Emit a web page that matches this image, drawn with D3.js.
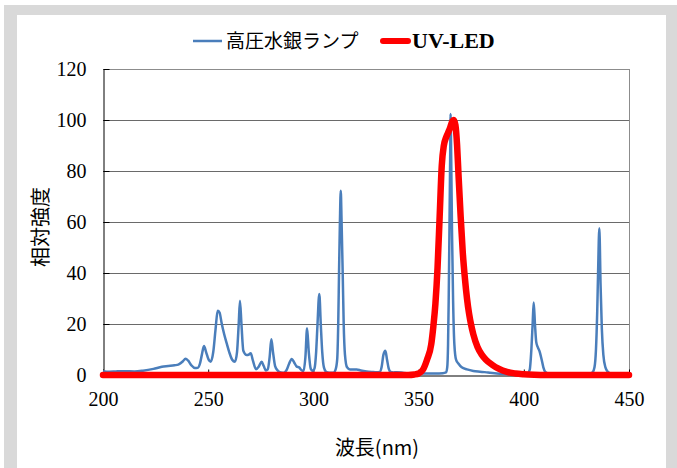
<!DOCTYPE html>
<html><head><meta charset="utf-8">
<script src="https://cdn.jsdelivr.net/npm/d3@7"></script>
<style>body{margin:0;background:#fff}svg{display:block}</style>
</head><body>
<script>
// Data
const xTicks = [200, 250, 300, 350, 400, 450];
const yTicks = [0, 20, 40, 60, 80, 100, 120];
const seriesNames = ["高圧水銀ランプ", "UV-LED"];

const hgWave = [200,203,206,210,215,219,224,228,231,234,236,238,239.2,240.5,242,243.7,245,246.1,247,248,249,250.2,251.2,252.4,253.5,254.5,255.4,256.4,257.6,258.8,260,261.4,262.7,263.7,264.5,265.1,265.8,266.7,268.3,269.3,270.2,271.3,272.7,274.2,275.4,276.4,277.4,278.3,279.2,280,280.8,281.8,283,284.5,286,287.3,288.5,289.7,290.8,292.1,293.2,294.2,295.3,296.2,297,297.8,298.8,299.7,300.5,301.3,301.9,302.8,303.5,304.2,305,306,307.5,309.5,310.5,311.3,311.8,312.2,312.6,313,313.4,313.9,314.4,315,316,317.4,319,320.6,322.5,325.3,328,330,331.5,332.4,333.3,334.2,335,335.8,336.7,338,339.6,343,348,353,358,361.5,363,363.6,364,364.3,364.7,365,365.2,365.5,365.9,366.4,367,367.8,368.9,370.5,373,376,379.2,383,388.7,394,398,401.5,402.8,403.6,404.2,404.7,405.3,405.9,406.6,407.6,408.5,409.3,410.2,412,416,422,428,431.5,432.7,433.6,434.3,434.9,435.3,435.9,436.5,437.1,437.8,438.8,440,441.5,445,450];
const hgValue = [1.5,1.3,1.4,1.5,1.4,1.7,2.4,3.2,3.5,3.8,4.2,5.4,6.4,5.6,3.8,2.7,2.8,4.5,8,11.4,9,6,5.2,9,18,25.2,24.5,20.3,16,12.4,9,6,5.2,9,20,29.1,20,9.5,7.8,8,8.5,5.5,2.3,3.5,5.2,3.5,1.8,2.2,7,14,9,3.5,1.8,1,0.9,2,4.5,6.3,5,3.3,3,2,1.5,7,18.3,9,2.3,1.6,2.5,9,19,31.8,20,9,3,1.3,0.9,0.9,2,6,20,41,60,72.3,60,41,20,8,3,2.2,2.2,2.2,1.8,1.4,1.2,1.1,1.2,3,8,9.5,6,2.5,1.2,1,1.1,0.8,0.6,0.6,0.6,0.7,1,3,12,29,60,85,102.4,85,55,29,12,6,4.5,3,2.2,1.6,1.3,1,0.5,0.4,0.4,0.5,2,10,20,28.4,20,13,11,9,6,3,1.2,0.5,0.4,0.3,0.3,0.5,1,3,10,25,40,57.5,35,18,8,3,1.2,0.5,0.3,0.3];

const ledWave = [200,250,300,340,345,348,350,352,354,356,357,358,359,360,361,362,363,364,365,366,366.7,367.5,368.3,369,370,371,372,373,374,375,376,378,380,382,385,388,392,396,400,405,410,420,450];
const ledValue = [0,0,0,0,0,0.2,0.6,2,6,12,19,28,42,62,82,90,93,95,97,99.5,100,98,90,78,62,48,38,30,24,19.5,16,11,8,6,4,2.5,1.2,0.6,0.3,0.1,0,0,0];

const W = 677, H = 468;
const svg = d3.select("body").append("svg").attr("width", W).attr("height", H);

// frame
svg.append("rect").attr("x", 4).attr("y", 5).attr("width", 700).attr("height", 500).attr("fill", "#d9d9d9");
svg.append("rect").attr("x", 17).attr("y", 15).attr("width", 649).attr("height", 500).attr("fill", "#fff");

const x = d3.scaleLinear().domain([200, 450]).range([103, 629]);
const y = d3.scaleLinear().domain([0, 120]).range([375, 69]);

// gridlines
svg.append("g").selectAll("line").data(yTicks.filter(d => d > 0)).join("line")
  .attr("x1", x(200)).attr("x2", x(450))
  .attr("y1", d => Math.round(y(d)) + 0.5).attr("y2", d => Math.round(y(d)) + 0.5)
  .attr("stroke", d => d === 120 ? "#8c8c8c" : "#6a6a6a").attr("stroke-width", 1);
// right border
svg.append("line").attr("x1", Math.round(x(450)) + 0.5).attr("x2", Math.round(x(450)) + 0.5)
  .attr("y1", y(120)).attr("y2", y(0)).attr("stroke", "#8c8c8c").attr("stroke-width", 1);

// axes
const yAxis = d3.axisLeft(y).tickValues(yTicks).tickSizeInner(-6).tickSizeOuter(0).tickPadding(14).tickFormat(d3.format("d"));
const gy = svg.append("g").attr("transform", `translate(${Math.round(x(200)) + 0.5},0)`).call(yAxis);
gy.select(".domain").attr("stroke", "#000");
gy.selectAll(".tick line").attr("stroke", "#000");
gy.selectAll("text").attr("font-family", "'Liberation Serif', serif").attr("font-size", 20).attr("fill", "#000").attr("dx", "-3px");

const xAxis = d3.axisBottom(x).tickValues(xTicks).tickSizeInner(-6).tickSizeOuter(0).tickPadding(16).tickFormat(d3.format("d"));
const gx = svg.append("g").attr("transform", `translate(0,${Math.round(y(0)) + 0.5})`).call(xAxis);
gx.select(".domain").attr("stroke", "#000");
gx.selectAll(".tick line").attr("stroke", "#000");
gx.selectAll("text").attr("font-family", "'Liberation Serif', serif").attr("font-size", 20).attr("fill", "#000");

// lines
const line = d3.line().x(d => x(d[0])).y(d => y(d[1])).curve(d3.curveMonotoneX);
const hg = hgWave.map((w, i) => [w, hgValue[i]]);
const led = ledWave.map((w, i) => [w, ledValue[i]]);
svg.append("path").datum(hg).attr("d", line).attr("fill", "none")
  .attr("stroke", "#4a7ebb").attr("stroke-width", 2.5).attr("stroke-linejoin", "round");
svg.append("path").datum(led).attr("d", line).attr("fill", "none")
  .attr("stroke", "#ff0000").attr("stroke-width", 6.5).attr("stroke-linejoin", "round").attr("stroke-linecap", "round");

// axis titles
svg.append("text").attr("x", 377).attr("y", 455).attr("text-anchor", "middle")
  .attr("font-family", "'Noto Sans CJK JP', sans-serif").attr("font-size", 20).attr("fill", "#000").text("波長(nm)");
svg.append("text").attr("transform", "translate(48,227) rotate(-90)").attr("text-anchor", "middle")
  .attr("font-family", "'Noto Sans CJK JP', sans-serif").attr("font-size", 20).attr("fill", "#000").text("相対強度");

// legend
svg.append("line").attr("x1", 193).attr("x2", 222).attr("y1", 41).attr("y2", 41)
  .attr("stroke", "#4a7ebb").attr("stroke-width", 2.5);
svg.append("text").attr("x", 226).attr("y", 48)
  .attr("font-family", "'Noto Sans CJK JP', sans-serif").attr("font-size", 19).attr("fill", "#000").text(seriesNames[0]);
svg.append("line").attr("x1", 383).attr("x2", 408).attr("y1", 41).attr("y2", 41)
  .attr("stroke", "#ff0000").attr("stroke-width", 6).attr("stroke-linecap", "round");
svg.append("text").attr("x", 412).attr("y", 48)
  .attr("font-family", "'Liberation Serif', serif").attr("font-weight", "bold").attr("font-size", 22).attr("fill", "#000").text(seriesNames[1]);
</script>
</body></html>
